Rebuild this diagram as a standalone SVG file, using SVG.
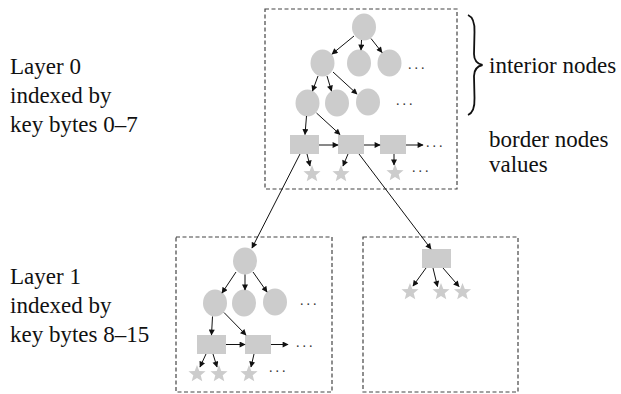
<svg xmlns="http://www.w3.org/2000/svg" xmlns:xlink="http://www.w3.org/1999/xlink" width="621" height="394" viewBox="0 0 621 394">
<style>
text{font-family:"Liberation Serif",Tinos,Times,"DejaVu Serif",serif}
.lbl{font-size:23px;fill:#111}
.dots{font-size:14px;fill:#333;letter-spacing:3px}
.box{fill:none;stroke:#444;stroke-width:1.2;stroke-dasharray:4 2.5}
.n{fill:#cccccc}
.e{stroke:#111;stroke-width:1;fill:none;marker-end:url(#ah)}
</style>
<defs>
<marker id="ah" viewBox="0 0 10 10" refX="9" refY="5" markerWidth="7" markerHeight="6" markerUnits="userSpaceOnUse" orient="auto">
<path d="M0,0 L10,5 L0,10 z" fill="#111"/>
</marker>
<path id="star" d="M0,-9 L2.3,-3.1 L8.56,-2.78 L3.7,1.2 L5.29,7.28 L0,3.9 L-5.29,7.28 L-3.7,1.2 L-8.56,-2.78 L-2.3,-3.1 z" fill="#cccccc"/>
</defs>

<g id="labels">
<text class="lbl" x="10" y="74">Layer 0</text>
<text class="lbl" x="10" y="103">indexed by</text>
<text class="lbl" x="10" y="132">key bytes 0–7</text>
<text class="lbl" x="10" y="284">Layer 1</text>
<text class="lbl" x="10" y="313">indexed by</text>
<text class="lbl" x="10" y="342">key bytes 8–15</text>
<path d="M468,15 Q475,18 474.5,32 L474,54 Q474,63 482.5,65 Q474,67 474,76 L474.5,98 Q475,112 468,115" fill="none" stroke="#111" stroke-width="1.8"/>
<text class="lbl" x="489" y="73">interior nodes</text>
<text class="lbl" x="489" y="147">border nodes</text>
<text class="lbl" x="489" y="172">values</text>
</g>

<g id="layer0">
<rect class="box" x="265" y="9" width="192" height="180"/>
<ellipse class="n" cx="364" cy="27" rx="12" ry="13.5"/>
<ellipse class="n" cx="322.5" cy="63" rx="12" ry="13.5"/>
<ellipse class="n" cx="359" cy="63" rx="12" ry="13.5"/>
<ellipse class="n" cx="389.5" cy="63" rx="12" ry="13.5"/>
<ellipse class="n" cx="307.5" cy="103" rx="12" ry="13.5"/>
<ellipse class="n" cx="337" cy="103" rx="12" ry="13.5"/>
<ellipse class="n" cx="368" cy="102" rx="12" ry="13.5"/>
<rect class="n" x="290" y="135" width="29" height="19"/>
<rect class="n" x="338" y="135" width="26" height="19"/>
<rect class="n" x="380" y="135" width="26" height="19"/>
<use xlink:href="#star" x="312" y="174"/>
<use xlink:href="#star" x="341" y="174"/>
<use xlink:href="#star" x="395" y="173"/>
<text class="dots" x="408" y="69">...</text>
<text class="dots" x="396" y="105">...</text>
<text class="dots" x="426" y="147">...</text>
<text class="dots" x="412" y="172">...</text>
</g>

<g id="layer1-left">
<rect class="box" x="176" y="237" width="156" height="155"/>
<ellipse class="n" cx="245" cy="261" rx="12" ry="13.5"/>
<ellipse class="n" cx="215" cy="303" rx="12" ry="13.5"/>
<ellipse class="n" cx="244" cy="303" rx="12" ry="13.5"/>
<ellipse class="n" cx="275" cy="302" rx="12" ry="13.5"/>
<rect class="n" x="197" y="335" width="29" height="19"/>
<rect class="n" x="245" y="335" width="26" height="19"/>
<use xlink:href="#star" x="197" y="374"/>
<use xlink:href="#star" x="219" y="374"/>
<use xlink:href="#star" x="249" y="374"/>
<text class="dots" x="300" y="305">...</text>
<text class="dots" x="296" y="347">...</text>
<text class="dots" x="269" y="372">...</text>
</g>

<g id="layer1-right">
<rect class="box" x="363" y="237" width="155" height="155"/>
<rect class="n" x="422" y="249" width="29" height="19"/>
<use xlink:href="#star" x="410" y="292"/>
<use xlink:href="#star" x="441" y="292"/>
<use xlink:href="#star" x="462.5" y="292"/>
</g>

<g id="connectors">
<path class="e" d="M354,36 L332,54"/>
<path class="e" d="M361.5,40 L361,50"/>
<path class="e" d="M371,38.5 L382,52.5"/>
<path class="e" d="M318,76 L312.5,91"/>
<path class="e" d="M327,76 L331.5,91"/>
<path class="e" d="M333,72 L357,94"/>
<path class="e" d="M306.5,116 L305,134.5"/>
<path class="e" d="M316.5,113 L340,134.5"/>
<path class="e" d="M319,145 L338,145"/>
<path class="e" d="M364,145 L380,145"/>
<path class="e" d="M406,145 L423,145"/>
<path class="e" d="M307,154 L310,166"/>
<path class="e" d="M348,154 L343,166"/>
<path class="e" d="M394,154 L394,165"/>
<path class="e" d="M300,154 L252,248"/>
<path class="e" d="M359,154 L431,249"/>
<path class="e" d="M236,272 L222,293"/>
<path class="e" d="M245,274.5 L245,290"/>
<path class="e" d="M253,272 L267,292"/>
<path class="e" d="M212.5,316.5 L211.5,335"/>
<path class="e" d="M224,312.5 L246,335"/>
<path class="e" d="M226,344.5 L245,344.5"/>
<path class="e" d="M271,344.5 L288,344.5"/>
<path class="e" d="M206,354 L200,367"/>
<path class="e" d="M213,354 L217,367"/>
<path class="e" d="M254,354 L251,367"/>
<path class="e" d="M426,268 L413,286"/>
<path class="e" d="M433,268 L437.5,286.5"/>
<path class="e" d="M443,268 L459,286.5"/>
</g>
</svg>
